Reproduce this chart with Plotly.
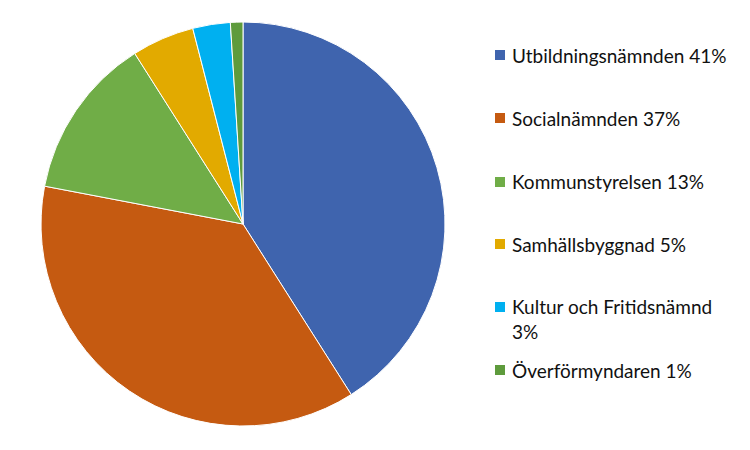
import plotly.graph_objects as go

# Budget share per committee (percent)
names = [
    "Utbildningsnämnden",
    "Socialnämnden",
    "Kommunstyrelsen",
    "Samhällsbyggnad",
    "Kultur och Fritidsnämnd",
    "Överförmyndaren",
]
shares = [41, 37, 13, 5, 3, 1]
legend_labels = [
    "Utbildningsnämnden 41%",
    "Socialnämnden 37%",
    "Kommunstyrelsen 13%",
    "Samhällsbyggnad 5%",
    "Kultur och Fritidsnämnd<br>3%",
    "Överförmyndaren 1%",
]
colors = ["#3F64AE", "#C55A11", "#70AD47", "#E2AA00", "#00B0F0", "#5E9B3C"]

W, H = 750, 450
FONT = "Lato"

fig = go.Figure(
    go.Pie(
        labels=names,
        values=shares,
        sort=False,
        direction="clockwise",
        rotation=0,
        textinfo="none",
        hoverinfo="label+percent",
        marker=dict(colors=colors, line=dict(color="white", width=1)),
        domain=dict(x=[(243 - 202) / W, (243 + 202) / W], y=[(H - 426) / H, (H - 22) / H]),
        showlegend=False,
    )
)

# Hand-placed legend: colored squares with text to the right of the pie
row_centers = [55, 118, 182, 244, 319, 370]
square_centers = [55, 118, 182, 244, 307, 370]
shapes = []
annotations = []
for lab, col, yc, ys in zip(legend_labels, colors, row_centers, square_centers):
    shapes.append(
        dict(
            type="rect", xref="paper", yref="paper",
            x0=495 / W, x1=505 / W,
            y0=1 - (ys + 5) / H, y1=1 - (ys - 5) / H,
            fillcolor=col, line=dict(width=0),
        )
    )
    annotations.append(
        dict(
            text=lab, xref="paper", yref="paper",
            x=510 / W, y=1 - yc / H,
            xanchor="left", yanchor="middle", align="left",
            showarrow=False,
            font=dict(family=FONT, size=19, color="#111111"),
        )
    )

fig.update_layout(
    width=W, height=H,
    margin=dict(l=0, r=0, t=0, b=0),
    paper_bgcolor="white",
    plot_bgcolor="white",
    shapes=shapes,
    annotations=annotations,
    font=dict(family=FONT),
)

fig.write_html("out.html")
